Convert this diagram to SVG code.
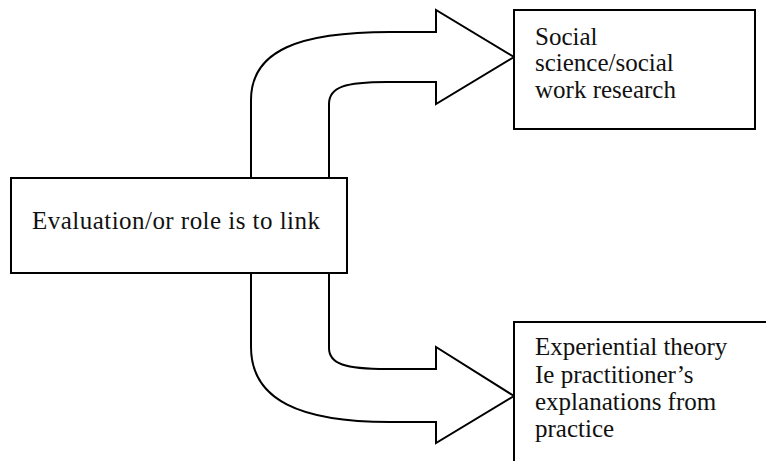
<svg xmlns="http://www.w3.org/2000/svg" width="766" height="461" viewBox="0 0 766 461">
  <style>
    .box { fill: #ffffff; stroke: #000000; stroke-width: 2; }
    .arrow { fill: #ffffff; stroke: #000000; stroke-width: 2; stroke-linejoin: miter; }
    .label { font-family: "Liberation Serif", "Times New Roman", serif; font-size: 25px; fill: #111111; }
  </style>
  <rect width="766" height="461" fill="#ffffff"/>

  <!-- block arrows leaving the central box -->
  <g id="connectors">
    <path class="arrow" d="M251,179 L251,100 C251,50 300,32 390,32 L436,32 L436,10 L514,57 L436,104 L436,82 L387,82 C345,82 329,87 329,104 L329,179"/>
    <path class="arrow" d="M251,272 L251,347 C251,400 300,422 390,422 L436,422 L436,443 L514,396 L436,347 L436,369 L387,369 C345,369 329,364 329,348 L329,272"/>
  </g>

  <g id="node-evaluation">
    <rect class="box" x="11" y="178" width="336" height="95"/>
    <text class="label" x="32" y="229" textLength="288" lengthAdjust="spacing">Evaluation/or role is to link</text>
  </g>

  <g id="node-research">
    <rect class="box" x="514" y="10" width="241" height="119"/>
    <text class="label" x="535" y="45">Social</text>
    <text class="label" x="535" y="71">science/social</text>
    <text class="label" x="535" y="98">work research</text>
  </g>

  <g id="node-experiential">
    <rect class="box" x="514" y="322" width="260" height="160"/>
    <text class="label" x="535" y="355">Experiential theory</text>
    <text class="label" x="535" y="383">Ie practitioner’s</text>
    <text class="label" x="535" y="410">explanations from</text>
    <text class="label" x="535" y="437">practice</text>
  </g>
</svg>
